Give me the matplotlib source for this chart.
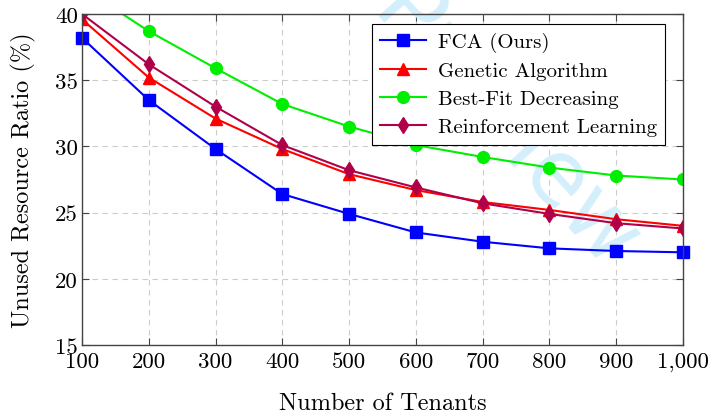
import matplotlib
matplotlib.use("Agg")
import matplotlib.pyplot as plt
from matplotlib.ticker import FuncFormatter

plt.rcParams['font.family'] = ['cmr10', 'DejaVu Serif']
plt.rcParams['mathtext.fontset'] = 'cm'
plt.rcParams['axes.formatter.use_mathtext'] = True

# unused resource ratio (%) per tenant count
tenants = [100, 200, 300, 400, 500, 600, 700, 800, 900, 1000]
fca = [38.2, 33.5, 29.8, 26.4, 24.9, 23.5, 22.8, 22.3, 22.1, 22.0]
genetic = [39.6, 35.2, 32.1, 29.8, 27.9, 26.7, 25.8, 25.2, 24.5, 24.0]
best_fit = [42.0, 38.7, 35.9, 33.2, 31.5, 30.1, 29.2, 28.4, 27.8, 27.5]
rl = [40.0, 36.2, 33.0, 30.1, 28.2, 26.9, 25.7, 24.9, 24.2, 23.8]
y_ticks = [15, 20, 25, 30, 35, 40]

fig = plt.figure(figsize=(7.1, 4.14), dpi=100)
ax = fig.add_axes([82 / 710, 68 / 414, 601 / 710, 331 / 414])

# faint watermark: above the grid, under the lines and the legend
ax.text(0.850, 0.332, "Preview", transform=fig.transFigure,
        color="#d4effc", fontsize=65, rotation=-48, rotation_mode="anchor",
        ha="right", va="baseline", family="DejaVu Sans", zorder=1.5,
        clip_on=False)

ax.plot(tenants, fca, color="#0000ff", marker="s", markersize=8, lw=1.5,
        label="FCA (Ours)", clip_on=False, zorder=5)
ax.plot(tenants, genetic, color="#ff0000", marker="^", markersize=8.5, lw=1.5,
        label="Genetic Algorithm", zorder=4)
ax.plot(tenants, best_fit, color="#00ee00", marker="o", markersize=8.5, lw=1.5,
        label="Best-Fit Decreasing", zorder=3)
ax.plot(tenants, rl, color="#b0004a", marker="d", markersize=8.5, lw=1.5,
        label="Reinforcement Learning", zorder=4)

ax.set_xlim(100, 1000)
ax.set_ylim(15, 40)
ax.set_xticks(tenants)
ax.set_yticks(y_ticks)
ax.xaxis.set_major_formatter(FuncFormatter(lambda v, p: f"{int(v):,}"))
ax.yaxis.set_major_formatter(FuncFormatter(lambda v, p: f"{int(v)}"))
ax.tick_params(direction="in", top=True, right=True, length=5, width=0.8,
               color="#444444", labelsize=16.5, pad=3)
ax.tick_params(axis="x", pad=5)
ax.grid(True, linestyle=(0, (5, 4)), color="#cccccc", lw=0.8)
ax.set_axisbelow(True)
for s in ax.spines.values():
    s.set_color("#444444")
    s.set_linewidth(1.0)
    s.set_zorder(6)

ax.set_xlabel("Number of Tenants", fontsize=17.5, labelpad=15)
ax.set_ylabel("Unused Resource Ratio (%)", fontsize=17.5, labelpad=14)

leg = ax.legend(loc="upper right", bbox_to_anchor=(0.97, 0.97),
                borderaxespad=0, fontsize=15, frameon=True, fancybox=False,
                edgecolor="black", framealpha=1.0, handlelength=2.2,
                borderpad=0.4, labelspacing=0.45, handletextpad=0.55)
leg.get_frame().set_linewidth(0.8)
leg.set_zorder(7)

fig.savefig("out.png", dpi=100)
